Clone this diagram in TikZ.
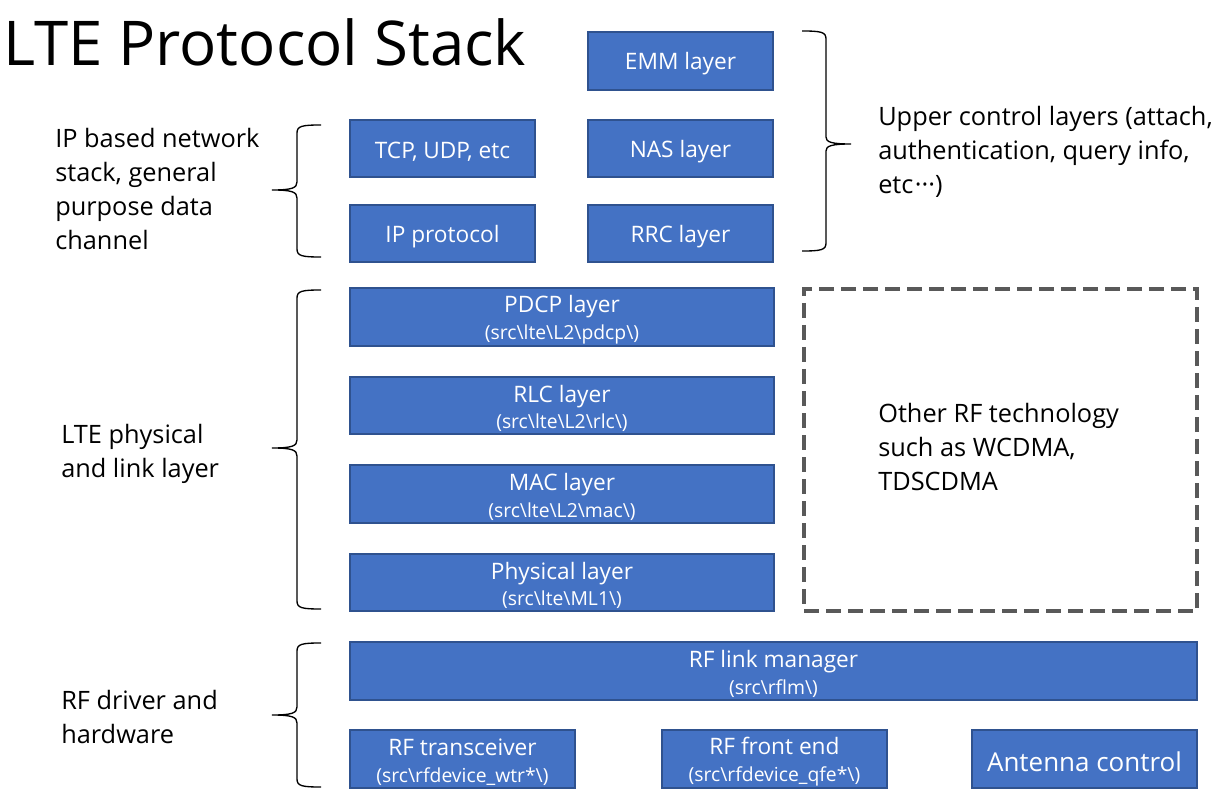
\documentclass[tikz,border=0pt]{standalone}
\usepackage{fontspec}
\setmainfont{Open Sans}
\usetikzlibrary{fit}
\definecolor{boxfill}{HTML}{4472C4}
\definecolor{boxline}{HTML}{2F528F}
\definecolor{dashc}{HTML}{595959}
\tikzset{
  blk/.style={draw=boxline, line width=1pt, fill=boxfill, inner sep=0pt},
  blktxt/.style={text=white, inner sep=0pt, align=center, yshift=-2.2pt, font=\fontsize{17}{21}\selectfont},
  lbl/.style={anchor=north west, inner sep=0pt, align=left, font=\fontsize{19}{25.5}\selectfont},
  brc/.style={draw=black, line width=1pt},
}
\newcommand{\codetxt}[1]{\\[-1pt]{\fontsize{14.5}{16}\selectfont #1}}
\newcommand{\bs}{\textbackslash}
\begin{document}
\begin{tikzpicture}[x=0.75pt,y=-0.75pt]
\useasboundingbox (0,0) rectangle (1231,798);
% title
\node[anchor=base west, inner sep=0pt, font=\fontsize{46.3}{50}\selectfont] (title) at (3,66) {LTE Protocol Stack};
% upper boxes
\node[blk, fit={(588,32) (773,90)}, label={[blktxt]center:EMM layer}] (emm) {};
\node[blk, fit={(350,120) (535,177)}, label={[blktxt]center:{TCP, UDP, etc}}] (tcp) {};
\node[blk, fit={(588,120) (773,177)}, label={[blktxt]center:NAS layer}] (nas) {};
\node[blk, fit={(350,205) (535,262)}, label={[blktxt]center:IP protocol}] (ip) {};
\node[blk, fit={(588,205) (773,262)}, label={[blktxt]center:RRC layer}] (rrc) {};
% L2 / L1
\node[blk, fit={(350,288) (774,346)}, label={[blktxt]center:{PDCP layer\codetxt{(src\bs lte\bs L2\bs pdcp\bs)}}}] (pdcp) {};
\node[blk, fit={(350,377) (774,434)}, label={[blktxt]center:{RLC layer\codetxt{(src\bs lte\bs L2\bs rlc\bs)}}}] (rlc) {};
\node[blk, fit={(350,465) (774,523)}, label={[blktxt]center:{MAC layer\codetxt{(src\bs lte\bs L2\bs mac\bs)}}}] (mac) {};
\node[blk, fit={(350,554) (774,611)}, label={[blktxt]center:{Physical layer\codetxt{(src\bs lte\bs ML1\bs)}}}] (phy) {};
% RF
\node[blk, fit={(350,642) (1197,700)}, label={[blktxt]center:{RF link manager\codetxt{(src\bs rflm\bs)}}}] (rflm) {};
\node[blk, fit={(350,730) (575,788)}, label={[blktxt]center:{RF transceiver\codetxt{(src\bs rfdevice\_wtr*\bs)}}}] (wtr) {};
\node[blk, fit={(662,730) (887,788)}, label={[blktxt]center:{RF front end\codetxt{(src\bs rfdevice\_qfe*\bs)}}}] (qfe) {};
\node[blk, fit={(972,730) (1197,788)}, label={[blktxt, font=\fontsize{19.5}{22}\selectfont]center:Antenna control}] (ant) {};
% dashed box
\node[draw=dashc, line width=2.6pt, dash pattern=on 11pt off 5.5pt, inner sep=0pt, fit={(804,289) (1197,611)}] (other) {};
\node[lbl] (othertxt) at (878,403) {Other RF technology\\such as WCDMA,\\TDSCDMA};
% side labels
\node[lbl] (iplbl) at (55,128) {IP based network\\stack, general\\purpose data\\channel};
\node[lbl] (ltelbl) at (61,424) {LTE physical\\and link layer};
\node[lbl] (rflbl) at (61,690) {RF driver and\\hardware};
\node[lbl] (uplbl) at (878,106) {Upper control layers (attach,\\authentication, query info,\\etc\kern1pt···)};
% braces
\draw[brc] (321,125) .. controls (302,125) and (297,126) .. (297,133) -- (297,182)
  .. controls (297,188) and (292,190) .. (272,190)
  .. controls (292,190) and (297,192) .. (297,198) -- (297,249)
  .. controls (297,256) and (302,257) .. (321,257);
\draw[brc] (321,290) .. controls (302,290) and (297,291) .. (297,298) -- (297,440)
  .. controls (297,446) and (292,448) .. (272,448)
  .. controls (292,448) and (297,450) .. (297,456) -- (297,601)
  .. controls (297,608) and (302,609) .. (321,609);
\draw[brc] (321,643) .. controls (302,643) and (297,644) .. (297,651) -- (297,707)
  .. controls (297,713) and (292,715) .. (272,715)
  .. controls (292,715) and (297,717) .. (297,723) -- (297,779)
  .. controls (297,786) and (302,787) .. (321,787);
\draw[brc] (802,31) .. controls (821,31) and (826,32) .. (826,39) -- (826,137)
  .. controls (826,142) and (831,144) .. (851,144)
  .. controls (831,144) and (826,146) .. (826,151) -- (826,243)
  .. controls (826,250) and (821,251) .. (802,251);
\end{tikzpicture}
\end{document}
